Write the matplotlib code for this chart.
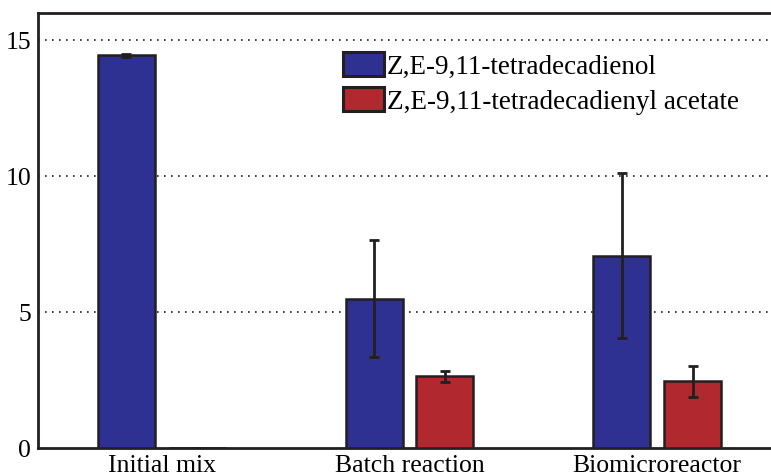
#!/usr/bin/env python3
import matplotlib
matplotlib.use('Agg')
import matplotlib.pyplot as plt
import numpy as np

groups = ['Initial mix', 'Batch reaction', 'Biomicroreactor']
series = ['Z,E-9,11-tetradecadienol', 'Z,E-9,11-tetradecadienyl acetate']
alcohol = [14.43, 5.49, 7.06]
alcohol_err = [0.05, 2.14, 3.03]
acetate = [0.0, 2.63, 2.45]
acetate_err = [0.0, 0.20, 0.57]
yticks = [0, 5, 10, 15]

plt.rcParams['font.family'] = ['Liberation Serif', 'DejaVu Serif']

fig = plt.figure(figsize=(7.71, 4.77), dpi=100)
ax = fig.add_axes([38/771, 28/477, 743/771, 435.5/477])

x = np.arange(1, len(groups) + 1)
w = 0.23
off = 0.143
ink = '#231f20'
errkw = dict(ecolor=ink, elinewidth=2, capsize=3.5, capthick=2)

ax.bar(x - off, alcohol, w, yerr=alcohol_err, color='#2e3192', edgecolor=ink,
       linewidth=1.8, error_kw=errkw, label=series[0], zorder=3)
ax.bar(x + off, acetate, w, yerr=acetate_err,
       color='#b1282f', edgecolor=ink, linewidth=1.8, error_kw=errkw,
       label=series[1], zorder=3)

ax.set_xlim(0.5, 3.5)
ax.set_ylim(0, 16)
ax.set_xticks(x)
ax.set_xticklabels(groups, fontsize=18.5)
ax.set_yticks(yticks)
ax.set_yticklabels([str(t) for t in yticks], fontsize=18.5)
ax.tick_params(length=0, pad=5, colors='black')
ax.tick_params(axis='x', pad=4)

for t in yticks[1:]:
    ax.axhline(t, color=ink, linewidth=1.2, linestyle=(0, (1, 3.2)), zorder=1)

for s in ['left', 'top', 'bottom']:
    ax.spines[s].set_linewidth(2)
    ax.spines[s].set_color(ink)
ax.spines['right'].set_visible(False)

leg = ax.legend(loc='upper left', bbox_to_anchor=(343/771, 1 - 53/477),
                bbox_transform=fig.transFigure, frameon=False, fontsize=19.5,
                handlelength=1.5, handleheight=1.0, handletextpad=0.12,
                labelspacing=0.28, borderaxespad=0, borderpad=0)
for h in leg.legend_handles:
    h.set_linewidth(2.2)

fig.savefig('out.png', dpi=100)
